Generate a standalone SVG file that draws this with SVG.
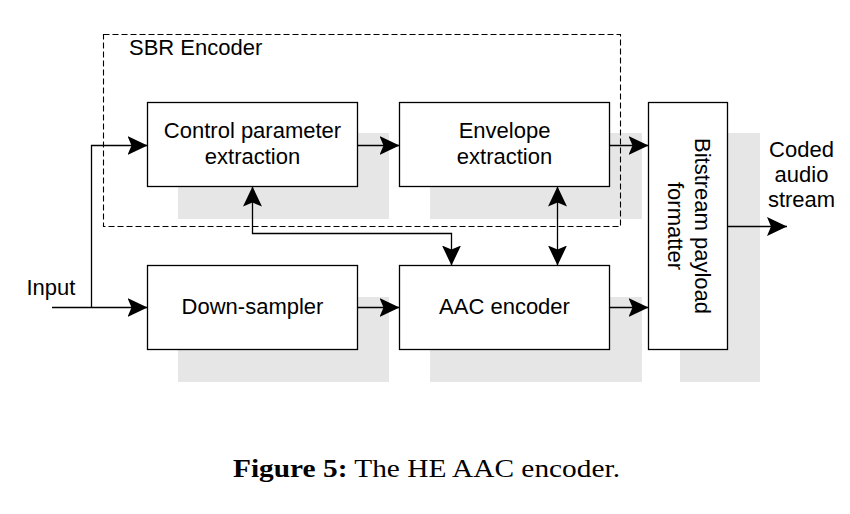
<svg xmlns="http://www.w3.org/2000/svg" width="850" height="514" viewBox="0 0 850 514">
<style>
  .box { fill: #ffffff; stroke: #000000; stroke-width: 1.3; }
  .shadow { fill: #e6e6e6; stroke: none; }
  .lbl { font-family: "Liberation Sans", Arial, sans-serif; font-size: 22px; fill: #000000; }
  .mid { text-anchor: middle; }
  .wire { fill: none; stroke: #000000; stroke-width: 1.3; }
  .dash { fill: none; stroke: #000000; stroke-width: 1.1; stroke-dasharray: 6 3; }
</style>
<defs>
  <marker id="arr" markerUnits="userSpaceOnUse" markerWidth="21" markerHeight="20" refX="20" refY="9.5" orient="auto-start-reverse" viewBox="0 0 21 20">
    <path d="M0,0 L20,9.5 L0,19 L4,9.5 Z" fill="#000000"/>
  </marker>
</defs>
<rect width="850" height="514" fill="#ffffff"/>

<g id="shadows">
  <rect class="shadow" x="178" y="133" width="211" height="86"/>
  <rect class="shadow" x="430" y="133" width="212" height="86"/>
  <rect class="shadow" x="178" y="297" width="211" height="85"/>
  <rect class="shadow" x="430" y="297" width="212" height="85"/>
  <rect class="shadow" x="680" y="133" width="80" height="249"/>
</g>

<g id="sbr-encoder">
  <rect class="dash" x="103.5" y="34.5" width="517" height="192"/>
  <text class="lbl" x="129" y="55">SBR Encoder</text>
</g>

<g id="control">
  <rect class="box" x="147.5" y="102.5" width="210" height="84"/>
  <text class="lbl mid" x="252.5" y="138">Control parameter</text>
  <text class="lbl mid" x="252.5" y="164">extraction</text>
</g>

<g id="envelope">
  <rect class="box" x="399.5" y="102.5" width="210" height="84"/>
  <text class="lbl mid" x="504.5" y="138">Envelope</text>
  <text class="lbl mid" x="504.5" y="164">extraction</text>
</g>

<g id="downsampler">
  <rect class="box" x="147.5" y="265.5" width="210" height="84"/>
  <text class="lbl mid" x="252.5" y="314">Down-sampler</text>
</g>

<g id="aac">
  <rect class="box" x="399.5" y="265.5" width="210" height="84"/>
  <text class="lbl mid" x="504.5" y="314">AAC encoder</text>
</g>

<g id="bitstream">
  <rect class="box" x="648.5" y="102.5" width="79" height="247"/>
  <g transform="rotate(90)">
    <text class="lbl mid" x="226" y="-695">Bitstream payload</text>
    <text class="lbl mid" x="226" y="-668">formatter</text>
  </g>
</g>

<g id="labels">
  <text class="lbl" x="26.5" y="295">Input</text>
  <text class="lbl mid" x="801.5" y="157">Coded</text>
  <text class="lbl mid" x="801.5" y="182">audio</text>
  <text class="lbl mid" x="801.5" y="207">stream</text>
</g>

<g id="connectors">
  <path class="wire" d="M52,307.5 H147.5" marker-end="url(#arr)"/>
  <path class="wire" d="M91.5,307.5 V145.5 H147.5" marker-end="url(#arr)"/>
  <path class="wire" d="M357.5,145.5 H399.5" marker-end="url(#arr)"/>
  <path class="wire" d="M609.5,145.5 H648.5" marker-end="url(#arr)"/>
  <path class="wire" d="M357.5,307.5 H399.5" marker-end="url(#arr)"/>
  <path class="wire" d="M609.5,307.5 H648.5" marker-end="url(#arr)"/>
  <path class="wire" d="M727.5,226.5 H787" marker-end="url(#arr)"/>
  <path class="wire" d="M252.5,186.5 V233.5 H451.5 V265.5" marker-start="url(#arr)" marker-end="url(#arr)"/>
  <path class="wire" d="M557.5,186.5 V265.5" marker-start="url(#arr)" marker-end="url(#arr)"/>
</g>

<g id="caption">
  <text x="233" y="477" font-family="'Liberation Serif', 'Times New Roman', serif" font-size="25" fill="#000000" textLength="387" lengthAdjust="spacingAndGlyphs"><tspan font-weight="bold">Figure 5:</tspan> The HE AAC encoder.</text>
</g>
</svg>
